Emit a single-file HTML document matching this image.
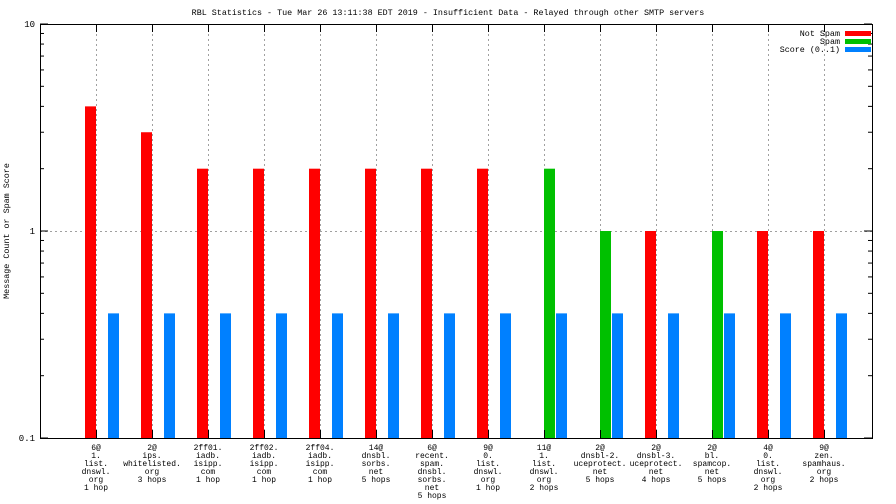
<!DOCTYPE html>
<html><head><meta charset="utf-8"><style>
html,body{margin:0;padding:0;background:#fff;}
svg{display:block;font-family:"Liberation Mono","DejaVu Sans Mono",monospace;font-size:9px;}
</style></head><body>
<svg id="chart" width="896" height="504" viewBox="0 0 896 504"></svg>
<script>
const categories=[["6@","1.","list.","dnswl.","org","1 hop"],["2@","ips.","whitelisted.","org","3 hops"],["2ff01.","iadb.","isipp.","com","1 hop"],["2ff02.","iadb.","isipp.","com","1 hop"],["2ff04.","iadb.","isipp.","com","1 hop"],["14@","dnsbl.","sorbs.","net","5 hops"],["6@","recent.","spam.","dnsbl.","sorbs.","net","5 hops"],["9@","0.","list.","dnswl.","org","1 hop"],["11@","1.","list.","dnswl.","org","2 hops"],["2@","dnsbl-2.","uceprotect.","net","5 hops"],["2@","dnsbl-3.","uceprotect.","net","4 hops"],["2@","bl.","spamcop.","net","5 hops"],["4@","0.","list.","dnswl.","org","2 hops"],["9@","zen.","spamhaus.","org","2 hops"]];
const notSpam=[4,3,2,2,2,2,2,2,0,0,1,0,1,1];
const spam=[0,0,0,0,0,0,0,0,2,1,0,1,0,0];
const score=[0.4,0.4,0.4,0.4,0.4,0.4,0.4,0.4,0.4,0.4,0.4,0.4,0.4,0.4];
const yTickValues=[0.1,1,10];
const yTickLabels=["0.1","1","10"];

const svg=document.getElementById('chart');
const NS='http://www.w3.org/2000/svg';
const L=40,R=872,T=24,B=438;
function y(v){return B-(Math.log10(v)+1)*(B-T)/2;}
function x(i){return 96+i*56;}
function el(tag,attrs,text){const e=document.createElementNS(NS,tag);for(const k in attrs)e.setAttribute(k,attrs[k]);if(text!==undefined)e.textContent=text;svg.appendChild(e);return e;}

let t=el('text',{x:448,y:15,'text-anchor':'middle','font-size':'8.4'},'RBL Statistics - Tue Mar 26 13:11:38 EDT 2019 - Insufficient Data - Relayed through other SMTP servers');


t=el('text',{x:9,y:231,'text-anchor':'middle','font-size':'8.4',transform:'rotate(-90 9 231)'},'Message Count or Spam Score');



let g=el('line',{x1:L,x2:R,y1:y(1)+0.5,y2:y(1)+0.5,stroke:'#a0a0a0','stroke-dasharray':'2,3'});


categories.forEach((c,i)=>{
  const ln=el('line',{x1:x(i)+0.5,x2:x(i)+0.5,y1:T,y2:B,stroke:'#a0a0a0','stroke-dasharray':'2,3'});
  
  
});
yTickValues.forEach((v,k)=>{
  const tx=el('text',{x:35,y:y(v)+3,'text-anchor':'end'},yTickLabels[k]);
  
  
  el('line',{x1:L,x2:L+8,y1:y(v),y2:y(v),stroke:'#000'});
  el('line',{x1:R-8,x2:R,y1:y(v),y2:y(v),stroke:'#000'});
  if(v<10){for(let m=2;m<10;m++){const mv=v*m;el('line',{x1:L,x2:L+4,y1:y(mv),y2:y(mv),stroke:'#000'});el('line',{x1:R-4,x2:R,y1:y(mv),y2:y(mv),stroke:'#000'});}}
});
function bar(v,x0,color,name){if(!(v>0))return;const yy=y(v);const r=el('rect',{x:x0,y:yy,width:11,height:B-yy,fill:color});}
categories.forEach((c,i)=>{
  bar(notSpam[i],x(i)-11,'#ff0000','bar-not-spam');
  bar(spam[i],x(i),'#00c000','bar-spam');
  bar(score[i],x(i)+12,'#0080ff','bar-score');
  el('line',{x1:x(i)+0.5,x2:x(i)+0.5,y1:B,y2:B-8,stroke:'#000'});
  el('line',{x1:x(i)+0.5,x2:x(i)+0.5,y1:T,y2:T+8,stroke:'#000'});
  const tx=el('text',{x:x(i),y:450,'text-anchor':'middle','font-size':'8'});
  
  
  c.forEach((s,j)=>{const ts=document.createElementNS(NS,'tspan');ts.setAttribute('x',x(i));ts.setAttribute('y',450+j*8);ts.textContent=s;tx.appendChild(ts);});
});
let f=el('rect',{x:L+0.5,y:T+0.5,width:R-L,height:B-T,fill:'none',stroke:'#000'});


[['Not Spam','#ff0000'],['Spam','#00c000'],['Score (0..1)','#0080ff']].forEach((d,k)=>{
  const yy=36+k*8;
  const tx=el('text',{x:840,y:yy,'text-anchor':'end','font-size':'8.4'},d[0]);
  
  
  const r=el('rect',{x:845,y:yy-5,width:26,height:5,fill:d[1]});
  
  
});
</script>
</body></html>
